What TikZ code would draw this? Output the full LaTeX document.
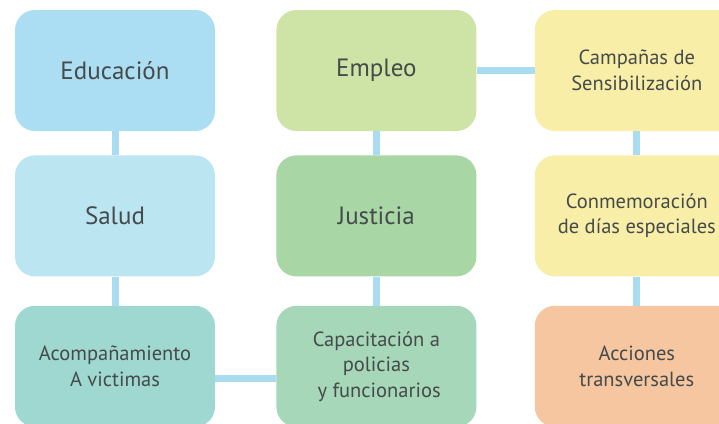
\documentclass[tikz,border=0pt]{standalone}
\usepackage{fontspec}
\setmainfont{PT Sans}
\usetikzlibrary{positioning}

\definecolor{txtgray}{HTML}{454A4A}
\definecolor{linkblue}{HTML}{A9DCF1}
\definecolor{cedu}{HTML}{ABDEF2}
\definecolor{csal}{HTML}{BCE5F2}
\definecolor{cacom}{HTML}{9ED8D0}
\definecolor{cemp}{HTML}{CEE3A6}
\definecolor{cjus}{HTML}{A8D6A5}
\definecolor{ccap}{HTML}{A5D7B8}
\definecolor{ccamp}{HTML}{F8EEA8}
\definecolor{cacc}{HTML}{F5C6A0}

\begin{document}
\begin{tikzpicture}[x=1pt,y=-1pt,node distance=24pt and 61pt,
  box/.style={rounded corners=20pt,minimum width=200pt,minimum height=121pt,
    inner sep=0pt,text=txtgray,align=center,font=\fontsize{25}{30}\selectfont},
  small/.style={font=\fontsize{20.5}{25.5}\selectfont},
  link/.style={draw=linkblue,line width=7pt}]

\clip (0,0) rectangle (719,423);

\node[box,fill=cedu]         (edu)                      at (115,70.5) {Educación};
\node[box,fill=csal]         (sal)  [below=of edu]      {Salud};
\node[box,fill=cacom,small]  (acom) [below=29pt of sal] {Acompañamiento\\A victimas};

\node[box,fill=cemp]         (emp)  [right=of edu]      {Empleo};
\node[box,fill=cjus]         (jus)  [below=of emp]      {Justicia};
\node[box,fill=ccap,small]   (cap)  [below=29pt of jus] {Capacitación a\\policias\\\ y funcionarios};

\node[box,fill=ccamp,small,minimum width=204pt] (camp) [right=58pt of emp]  {Campañas de\\Sensibilización};
\node[box,fill=ccamp,small,minimum width=204pt] (conm) [below=of camp]      {Conmemoración\\de días especiales};
\node[box,fill=cacc,small,minimum width=204pt]  (acc)  [below=29pt of conm] {Acciones\\transversales};

\path[link] (edu) edge (sal)
  (sal) edge (acom)
  ([yshift=-12pt]acom.east) edge ([yshift=-12pt]cap.west)
  (cap) edge (jus)
  (jus) edge (emp)
  (emp) edge (camp)
  (camp) edge (conm)
  (conm) edge (acc);

\end{tikzpicture}
\end{document}
